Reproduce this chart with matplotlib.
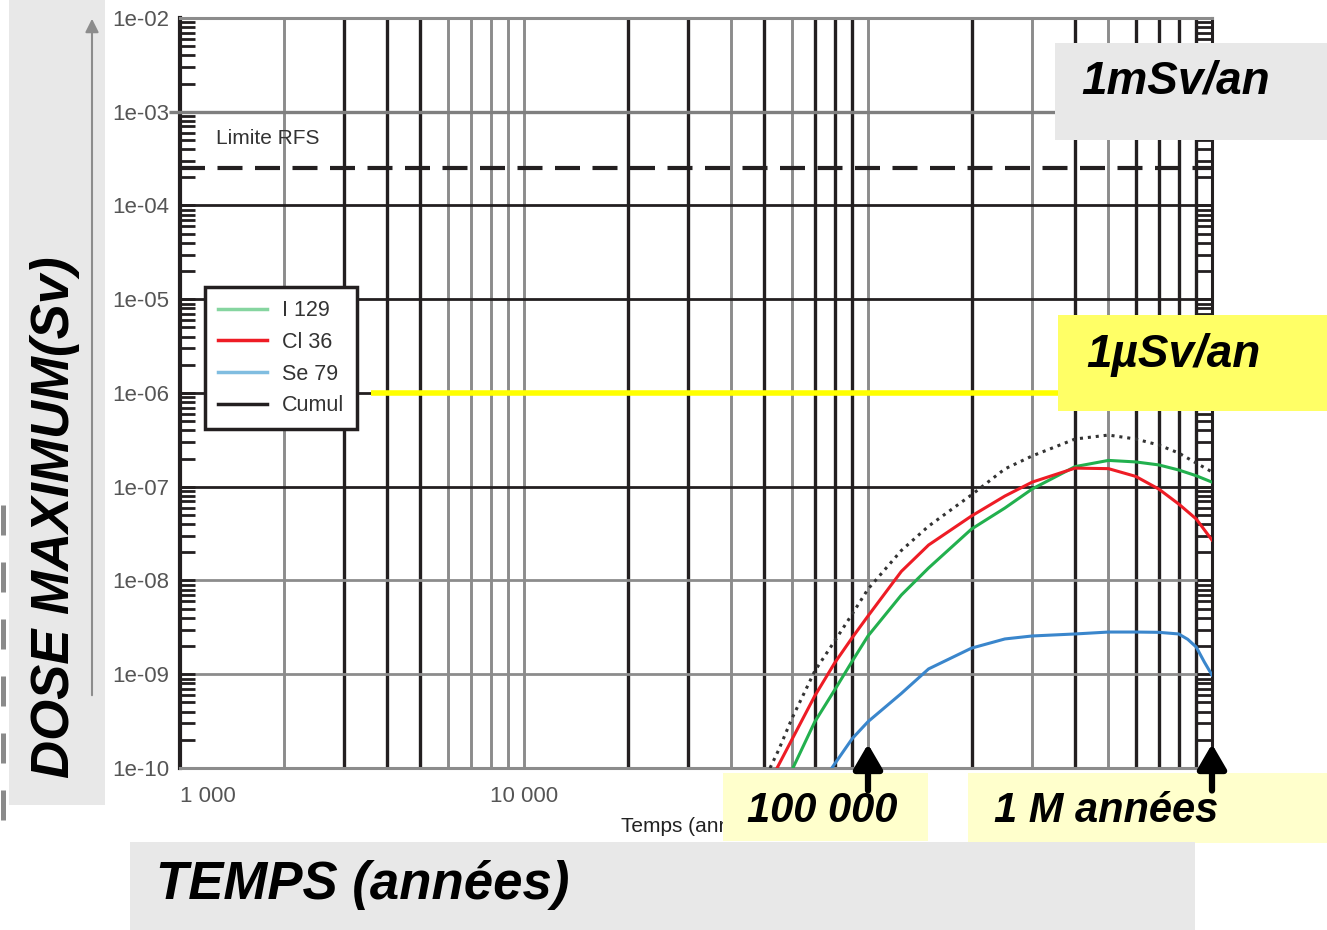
import numpy as np
import matplotlib
matplotlib.use("Agg")
import matplotlib.pyplot as plt
from matplotlib.lines import Line2D
from matplotlib.patches import Rectangle
from matplotlib.ticker import LogLocator, NullFormatter
from matplotlib.transforms import Affine2D

plt.rcParams['font.family'] = ['Liberation Sans', 'DejaVu Sans']

W, H = 1327, 930

# dose curves (Sv), time in years
t_i129 = [6.05e4, 7e4, 8e4, 9e4, 1e5, 1.25e5, 1.5e5, 2e5, 2.5e5, 3e5, 4e5, 5e5, 6e5, 7e5, 8e5, 9e5, 1e6]
d_i129 = [1e-10, 3.1e-10, 6.8e-10, 1.38e-9, 2.56e-9, 7.0e-9, 1.36e-8, 3.54e-8, 5.93e-8, 9.46e-8,
          1.64e-7, 1.91e-7, 1.84e-7, 1.71e-7, 1.51e-7, 1.31e-7, 1.12e-7]

t_cl36 = [5.44e4, 6e4, 7e4, 8e4, 9e4, 1e5, 1.25e5, 1.5e5, 2e5, 2.5e5, 3e5, 4e5, 5e5, 6e5, 7e5, 8e5, 9e5, 1e6]
d_cl36 = [1e-10, 1.99e-10, 5.86e-10, 1.32e-9, 2.46e-9, 4.18e-9, 1.25e-8, 2.39e-8, 4.88e-8, 7.96e-8,
          1.12e-7, 1.58e-7, 1.56e-7, 1.29e-7, 9.46e-8, 6.55e-8, 4.53e-8, 2.7e-8]

t_se79 = [7.85e4, 9e4, 1e5, 1.25e5, 1.5e5, 2e5, 2.5e5, 3e5, 4e5, 5e5, 6e5, 7e5, 8e5, 8.5e5, 9e5, 9.5e5, 1e6]
d_se79 = [1e-10, 2.06e-10, 3.12e-10, 6.24e-10, 1.14e-9, 1.9e-9, 2.38e-9, 2.56e-9, 2.69e-9, 2.82e-9,
          2.82e-9, 2.8e-9, 2.69e-9, 2.36e-9, 1.95e-9, 1.35e-9, 9.8e-10]

t_cumul = [5.19e4, 5.5e4, 6e4, 7e4, 8e4, 9e4, 1e5, 1.25e5, 1.5e5, 2e5, 2.5e5, 3e5, 4e5, 5e5, 6e5, 7e5, 8e5, 9e5, 1e6]
d_cumul = [1e-10, 1.56e-10, 3.33e-10, 1.08e-9, 2.26e-9, 4.4e-9, 8.1e-9, 2.09e-8, 3.8e-8, 8.2e-8, 1.55e-7,
           2.13e-7, 3.23e-7, 3.56e-7, 3.23e-7, 2.79e-7, 2.29e-7, 1.79e-7, 1.44e-7]

series_names = ['I 129', 'Cl 36', 'Se 79', 'Cumul']

# axis ticks
x_ticks = [1e3, 1e4, 1e5, 1e6]
x_labels = ['1 000', '10 000', '', '']
y_ticks = [1e-2, 1e-3, 1e-4, 1e-5, 1e-6, 1e-7, 1e-8, 1e-9, 1e-10]
y_labels = ['1e-02', '1e-03', '1e-04', '1e-05', '1e-06', '1e-07', '1e-08', '1e-09', '1e-10']

# grid lines of the scanned chart (black / grey)
vgrid_black = [3e3, 4e3, 5e3, 2e4, 3e4, 5e4, 7e4, 8e4, 9e4, 2e5, 4e5, 6e5, 7e5, 8e5, 9e5]
vgrid_gray = [2e3, 6e3, 7e3, 8e3, 9e3, 1e4, 4e4, 6e4, 1e5, 3e5, 5e5]
hgrid_black = [1e-4, 1e-5, 1e-6, 1e-7]
hgrid_gray = [1e-8, 1e-9]

limite_rfs = 2.5e-4
un_msv = 1e-3
un_usv = 1e-6
arrow_times = [1e5, 1e6]

BLACK = '#231f20'
GRAY = '#8c8c8c'

fig = plt.figure(figsize=(W / 100, H / 100), dpi=100)
ax = fig.add_axes([180 / W, 1 - 768 / H, 1032 / W, 750 / H])
ax.set_xscale('log')
ax.set_yscale('log')
ax.set_xlim(1e3, 1e6)
ax.set_ylim(1e-10, 1e-2)

for t in vgrid_black:
    ax.axvline(t, color=BLACK, lw=2.4, zorder=1)
for t in vgrid_gray:
    ax.axvline(t, color=GRAY, lw=2.1, zorder=1)
for d in hgrid_black:
    ax.axhline(d, color=BLACK, lw=2.0, zorder=1)
for d in hgrid_gray:
    ax.axhline(d, color=GRAY, lw=2.0, zorder=1)

ax.axhline(limite_rfs, color=BLACK, lw=3, dashes=(6, 3), zorder=2)
ax.text(1.27e3, 5.2e-4, 'Limite RFS', fontsize=15, color='#333333', va='center', zorder=3)

ax.plot(t_i129, d_i129, color='#22b04e', lw=2.2, zorder=3)
ax.plot(t_cl36, d_cl36, color='#ee1c25', lw=2.2, zorder=3)
ax.plot(t_se79, d_se79, color='#3a86cc', lw=2.2, zorder=3)
ax.plot(t_cumul, d_cumul, color='#333333', lw=2.2, linestyle=(0, (1, 1.6)), zorder=3)

handles = [Line2D([], [], color='#86d5a0', lw=2.5),
           Line2D([], [], color='#ee1c25', lw=2.5),
           Line2D([], [], color='#80bde0', lw=2.5),
           Line2D([], [], color=BLACK, lw=2.5)]
leg = ax.legend(handles, series_names, loc='upper left', bbox_to_anchor=(0.024, 0.641),
                borderaxespad=0, fancybox=False, framealpha=1, edgecolor=BLACK, fontsize=15.5,
                handlelength=2.3, labelspacing=0.5, borderpad=0.6, handletextpad=0.7)
leg.get_frame().set_linewidth(2.5)
for txt in leg.get_texts():
    txt.set_color('#333333')
leg.set_zorder(5)

# annotation lines of the slide
ax.hlines(un_msv, 930, 3.6e5, color='#7f7f7f', lw=2.4, clip_on=False, zorder=4)
ax.hlines(un_usv, 3.6e3, 4.5e5, color='#ffff00', lw=4, zorder=4)

# spines and ticks
ax.spines['left'].set_color(BLACK)
ax.spines['left'].set_linewidth(3)
ax.spines['right'].set_color(BLACK)
ax.spines['right'].set_linewidth(2.2)
ax.spines['top'].set_color(GRAY)
ax.spines['top'].set_linewidth(2.2)
ax.spines['bottom'].set_color(GRAY)
ax.spines['bottom'].set_linewidth(2.2)

ax.set_yticks(y_ticks, y_labels)
ax.yaxis.set_minor_locator(LogLocator(base=10, subs=np.arange(2, 10), numticks=100))
ax.yaxis.set_minor_formatter(NullFormatter())
ax.tick_params(axis='y', which='both', direction='in', length=11, width=2, color=BLACK,
               left=True, right=True, labelsize=16, labelcolor='#555555', pad=8)
ax.set_xticks(x_ticks, x_labels)
ax.xaxis.set_minor_locator(LogLocator(base=10, subs=[]))
ax.tick_params(axis='x', which='both', length=0, labelsize=16, labelcolor='#555555', pad=13)
ax.get_xticklabels()[0].set_horizontalalignment('left')
ax.set_xlabel('Temps (années)', fontsize=15, color='#222222', labelpad=7)

# slide overlays, in pixel coordinates (origin top-left)
px = Affine2D().scale(1 / W, -1 / H).translate(0, 1) + fig.transFigure


def box(x0, y0, x1, y1, color):
    ax.add_patch(Rectangle((x0, y1), x1 - x0, y0 - y1, transform=px, facecolor=color,
                           edgecolor='none', clip_on=False, zorder=10))


def label(x, y, s, size, **kw):
    ax.text(x, y, s, transform=px, fontsize=size, fontweight='bold', fontstyle='italic',
            color='black', ha='center', va='center', clip_on=False, zorder=11, **kw)


box(9, 0, 105, 805, '#e8e8e8')
box(1055, 43, 1327, 140, '#e8e8e8')
box(1058, 315, 1327, 411, '#ffff66')
box(723, 773, 928, 841, '#ffffcc')
box(968, 773, 1327, 843, '#ffffcc')
box(130, 842, 1195, 930, '#e8e8e8')

label(55, 517, 'DOSE MAXIMUM(Sv)', 38, rotation=90)
label(1176, 82, '1mSv/an', 33)
label(1173, 355, '1µSv/an', 33)
label(822, 811, '100 000', 30)
label(1106, 811, '1 M années', 30)
label(363, 885, 'TEMPS (années)', 38)

ax.annotate('', xy=(92, 16), xytext=(92, 698), xycoords=px, textcoords=px, annotation_clip=False,
            arrowprops=dict(arrowstyle='-|>,head_length=0.5,head_width=0.25', color='#8c8c8c',
                            lw=1.5, mutation_scale=16), zorder=11)
ax.add_line(Line2D([3, 3], [505, 822], transform=px, color='#8a8a8a', lw=3.6,
                   dashes=(6, 5.4), clip_on=False, zorder=10))

for t in arrow_times:
    ax.annotate('', xy=(t, 0.032), xytext=(t, -0.03), xycoords=ax.get_xaxis_transform(),
                annotation_clip=False, zorder=12,
                arrowprops=dict(arrowstyle='-|>,head_length=0.6,head_width=0.35', color='black',
                                lw=4.5, mutation_scale=25, shrinkA=0, shrinkB=0))

fig.savefig('out.png', dpi=100)
